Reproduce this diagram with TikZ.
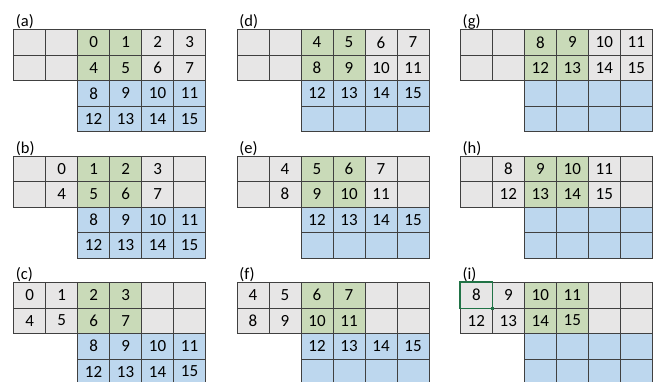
\documentclass[tikz,border=0pt]{standalone}
\usepackage{fontspec}
\setmainfont{Carlito}
\definecolor{CellGray}{HTML}{E7E6E6}
\definecolor{CellGreen}{HTML}{C9DAB8}
\definecolor{CellBlue}{HTML}{BDD7EE}
\definecolor{GridLine}{HTML}{404040}
\definecolor{SelGreen}{HTML}{217346}
\tikzset{
  cell/.style={draw=GridLine, line width=0.6pt, anchor=north west, minimum width=32pt, minimum height=25.5pt, inner sep=0pt, font=\fontsize{17}{20}\selectfont},
  blueCell/.style={cell, fill=CellBlue},
  panelLabel/.style={anchor=west, inner sep=0pt, font=\fontsize{16.5}{20}\selectfont},
  selFrame/.style={draw=SelGreen, line width=1.2pt},
  selHandle/.style={fill=SelGreen, minimum size=3.2pt, inner sep=0pt}
}

% #1 name, #2 x, #3 y, #4 label, #5 upper two rows (6 each), #6 lower two rows (4 each)
\newcommand{\gridpanel}[6]{%
  \node[panelLabel] (#1-lbl) at (#2+2.5,#3-7.5) {(#4)};
  \foreach \t [count=\i from 0] in {#5} {
    \pgfmathtruncatemacro{\r}{div(\i,6)}
    \pgfmathtruncatemacro{\c}{mod(\i,6)}
    \ifnum\c=2 \def\cellfill{CellGreen}\else\ifnum\c=3 \def\cellfill{CellGreen}\else\def\cellfill{CellGray}\fi\fi
    \node[cell, fill=\cellfill] (#1-\r-\c) at (#2+\c*32,#3+\r*25.5) {\t};
  }
  \foreach \t [count=\i from 0] in {#6} {
    \pgfmathtruncatemacro{\r}{2+div(\i,4)}
    \pgfmathtruncatemacro{\c}{2+mod(\i,4)}
    \node[blueCell] (#1-\r-\c) at (#2+\c*32,#3+\r*25.5) {\t};
  }
}

\begin{document}
\begin{tikzpicture}[x=1pt,y=-1pt]
  \useasboundingbox (0,0) rectangle (660,382);

  % first column
  \gridpanel{a}{13.3}{29.3}{a}{{},{},0,1,2,3,{},{},4,5,6,7}{8,9,10,11,12,13,14,15}
  \gridpanel{b}{13.3}{155.7}{b}{{},0,1,2,3,{},{},4,5,6,7,{}}{8,9,10,11,12,13,14,15}
  \gridpanel{c}{13.3}{282}{c}{0,1,2,3,{},{},4,5,6,7,{},{}}{8,9,10,11,12,13,14,15}

  % second column
  \gridpanel{d}{236.7}{29.3}{d}{{},{},4,5,6,7,{},{},8,9,10,11}{12,13,14,15,{},{},{},{}}
  \gridpanel{e}{236.7}{155.7}{e}{{},4,5,6,7,{},{},8,9,10,11,{}}{12,13,14,15,{},{},{},{}}
  \gridpanel{f}{236.7}{282}{f}{4,5,6,7,{},{},8,9,10,11,{},{}}{12,13,14,15,{},{},{},{}}

  % third column
  \gridpanel{g}{460}{29.3}{g}{{},{},8,9,10,11,{},{},12,13,14,15}{{},{},{},{},{},{},{},{}}
  \gridpanel{h}{460}{155.7}{h}{{},8,9,10,11,{},{},12,13,14,15,{}}{{},{},{},{},{},{},{},{}}
  \gridpanel{i}{460}{282}{i}{8,9,10,11,{},{},12,13,14,15,{},{}}{{},{},{},{},{},{},{},{}}

  % selected cell
  \draw[selFrame] (i-0-0.south west) rectangle (i-0-0.north east);
  \node[selHandle] (i-handle) at (i-0-0.south east) {};
\end{tikzpicture}
\end{document}
